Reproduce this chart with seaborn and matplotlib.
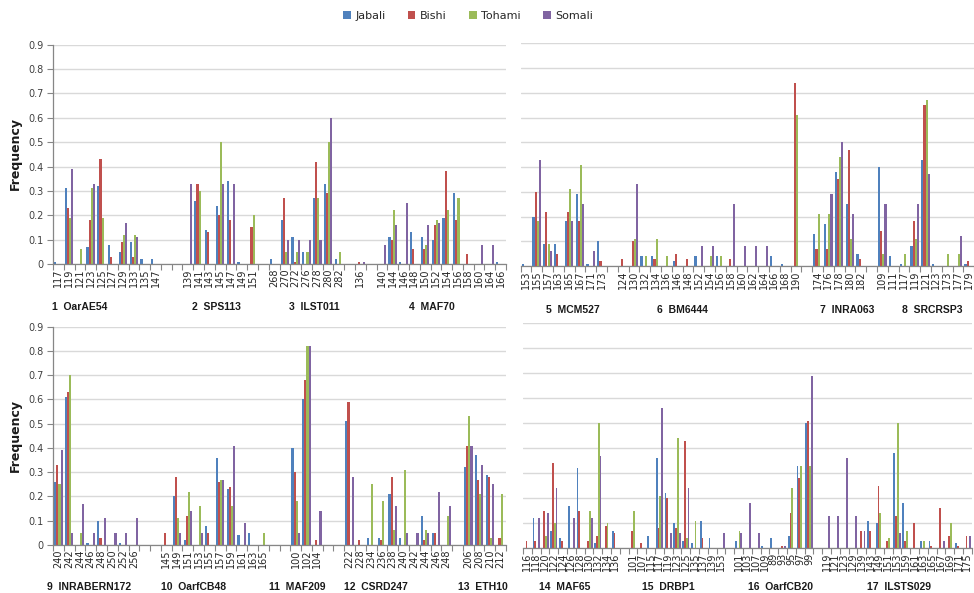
import matplotlib
matplotlib.use("Agg")
import matplotlib.pyplot as plt
import pandas as pd
import seaborn as sns
from matplotlib.patches import Patch
from matplotlib.ticker import FixedLocator

BREEDS = ["Jabali", "Bishi", "Tohami", "Somali"]
COLORS = ["#4F81BD", "#C0504D", "#9BBB59", "#8064A2"]

# ---- panel A: markers 1-4 ("" = spacer slot between markers) ----
A_ALLELES = ["117", "119", "121", "123", "125", "127", "129", "133", "135", "147", "", "",
             "139", "141", "143", "145", "147", "149", "151", "",
             "268", "270", "272", "276", "278", "280", "282", "",
             "136", "", "140", "144", "146", "148", "150", "152", "154", "156", "158", "160", "164", "166"]
A_JABALI = [.01, .31, 0, .07, .32, .08, .05, .09, .02, .02, 0, 0,
            0, .26, .14, .24, .34, .01, 0, 0,
            .02, .18, .11, .05, .27, .33, .02, 0,
            0, 0, 0, .11, .01, .13, .11, .10, .19, .29, 0, 0, 0, .01]
A_BISHI = [0, .23, 0, .18, .43, .03, .09, .03, 0, 0, 0, 0,
           0, .33, .13, .20, .18, 0, .15, 0,
           0, .27, .01, 0, .42, .29, 0, 0,
           .01, 0, 0, .10, 0, .06, .06, .16, .38, .18, .04, 0, 0, 0]
A_TOHAMI = [0, .19, .06, .31, .19, 0, .12, .12, 0, 0, 0, 0,
            0, .30, 0, .50, 0, 0, .20, 0,
            0, .05, .05, .05, .27, .50, .05, 0,
            0, 0, 0, .22, 0, 0, .08, .18, .22, .27, 0, 0, 0, 0]
A_SOMALI = [0, .39, 0, .33, 0, 0, .17, .11, 0, 0, 0, 0,
            .33, 0, 0, .33, .33, 0, 0, 0,
            0, .10, .10, .10, .10, .60, 0, 0,
            .01, 0, .08, .16, .25, 0, .16, .17, 0, 0, 0, .08, .08, 0]
A_MARKERS = ["1  OarAE54", "2  SPS113", "3  ILST011", "4  MAF70"]

# ---- panel B: markers 5-8 ----
B_ALLELES = ["153", "155", "157", "163", "165", "167", "171", "173", "",
             "124", "130", "132", "134", "136", "146", "148", "152", "154", "156", "158", "160",
             "162", "164", "166", "168", "190", "",
             "174", "176", "178", "180", "182", "",
             "109", "111", "117", "119", "121", "123", "173", "177", "179"]
B_JABALI = [.01, .20, .09, .09, .18, .29, .01, .10, 0,
            0, 0, .04, .04, 0, .02, 0, .04, 0, .04, 0, 0, 0, 0, .04, .01, 0, 0,
            .13, .17, .38, .25, .05, 0,
            .40, .04, .01, .08, .43, .01, 0, 0, .01]
B_BISHI = [0, .30, .22, .05, .22, .18, 0, .02, 0,
           .03, .10, 0, .03, 0, .05, .03, 0, 0, 0, .03, 0, 0, 0, 0, 0, .74, 0,
           .07, .07, .35, .47, .03, 0,
           .14, 0, 0, .18, .65, 0, 0, 0, .02]
B_TOHAMI = [0, .18, .09, 0, .31, .41, 0, 0, 0,
            0, .11, .04, .11, .04, 0, 0, 0, .04, .04, 0, 0, 0, 0, 0, 0, .61, 0,
            .21, .21, .44, .11, 0, 0,
            .05, 0, .05, .11, .67, 0, .05, .05, 0]
B_SOMALI = [0, .43, .06, 0, .18, .25, .06, 0, 0,
            0, .33, 0, 0, 0, 0, 0, .08, .08, 0, .25, .08, .08, .08, 0, 0, 0, 0,
            0, .29, .50, .21, 0, 0,
            .25, 0, 0, .25, .37, 0, 0, .12, 0]
B_MARKERS = ["5  MCM527", "6  BM6444", "7  INRA063", "8  SRCRSP3"]

# ---- panel C: markers 9-13 ----
C_ALLELES = ["240", "242", "244", "246", "248", "250", "252", "256", "", "",
             "145", "149", "151", "153", "155", "157", "159", "161", "163", "165", "", "",
             "100", "102", "104", "", "",
             "222", "228", "234", "236", "238", "240", "242", "244", "246", "248", "",
             "206", "208", "210", "212"]
C_JABALI = [.26, .61, 0, .01, .10, 0, .01, 0, 0, 0,
            0, .20, .02, 0, .08, .36, .23, .04, .05, 0, 0, 0,
            .40, .60, 0, 0, 0,
            .51, 0, .03, .03, .21, .03, 0, .12, .05, 0, 0,
            .32, .37, .29, 0]
C_BISHI = [.33, .63, 0, 0, .03, 0, 0, 0, 0, 0,
           .05, .28, .12, 0, .05, .26, .24, 0, 0, 0, 0, 0,
           .30, .68, .02, 0, 0,
           .59, .02, 0, .02, .28, 0, 0, .02, .05, 0, 0,
           .41, .27, .28, .03]
C_TOHAMI = [.25, .70, .05, 0, 0, 0, 0, 0, 0, 0,
            0, .11, .22, .16, 0, .27, .16, 0, 0, .05, 0, 0,
            .18, .82, 0, 0, 0,
            0, 0, .25, .18, .06, .31, 0, .06, 0, .12, 0,
            .53, .21, .03, .21]
C_SOMALI = [.39, .05, .17, .05, .11, .05, .05, .11, 0, 0,
            0, .05, .14, .05, 0, .27, .41, .09, 0, 0, 0, 0,
            .05, .82, .14, 0, 0,
            .28, 0, 0, 0, .16, .05, .05, .05, .22, .16, 0,
            .41, .33, .25, 0]
C_MARKERS = ["9  INRABERN172", "10  OarfCB48", "11  MAF209", "12  CSRD247", "13  ETH10"]

# ---- panel D: markers 14-17 ----
D_ALLELES = ["116", "118", "120", "122", "124", "126", "128", "130", "132", "134", "136", "",
             "101", "107", "115", "117", "119", "123", "125", "135", "137", "139", "153", "",
             "101", "103", "107", "109", "89", "93", "95", "97", "99", "",
             "119", "121", "123", "129", "139", "143", "149", "151", "153", "159", "161", "163",
             "165", "167", "169", "171", "175"]
D_JABALI = [0, .12, 0, .07, .04, .17, .32, 0, .02, 0, .07, 0,
            0, 0, .05, .36, .22, .10, .03, .02, .11, .04, 0, 0,
            .03, 0, 0, .01, .04, 0, .05, .33, .50, 0,
            0, 0, 0, 0, 0, .11, .10, 0, .38, .18, 0, .03, .03, 0, 0, .02, 0]
D_BISHI = [.03, .03, .15, .34, .03, 0, .15, .03, .05, .09, .06, 0,
           .07, .02, 0, .08, .20, .08, .43, 0, .04, 0, 0, 0,
           0, 0, 0, 0, 0, .01, .14, .28, .51, 0,
           0, 0, 0, 0, .07, .07, .25, .03, .13, .03, .10, 0, .01, .16, .05, .01, .05]
D_TOHAMI = [0, 0, .05, .10, 0, 0, 0, .15, .50, .10, 0, 0,
            .15, 0, 0, .21, 0, .44, .04, .11, 0, 0, 0, 0,
            .07, 0, 0, 0, 0, 0, .24, .33, .33, 0,
            0, 0, 0, 0, 0, 0, .14, .04, .50, .07, 0, .03, 0, 0, .10, 0, 0]
D_SOMALI = [0, .12, .14, .24, 0, .12, 0, .12, .37, 0, 0, 0,
            0, 0, 0, .56, .06, .06, .24, 0, 0, 0, .06, 0,
            .06, .18, .06, 0, 0, .01, 0, 0, .69, 0,
            .13, .13, .36, .13, .07, 0, 0, 0, .06, 0, 0, 0, 0, .03, 0, 0, .05]
D_MARKERS = ["14  MAF65", "15  DRBP1", "16  OarfCB20", "17  ILSTS029"]

FIG_W, FIG_H = 974, 593
sns.set_theme(style="white")
plt.rcParams["font.family"] = ["DejaVu Sans"]
fig = plt.figure(figsize=(FIG_W / 100, FIG_H / 100), dpi=100)


def add_axes_px(x0, y_top, x1, y_bot):
    return fig.add_axes([x0 / FIG_W, 1 - y_bot / FIG_H, (x1 - x0) / FIG_W, (y_bot - y_top) / FIG_H])


def draw_panel(ax, alleles, series, show_y):
    slots = [f"s{i}" for i in range(len(alleles))]
    frames = []
    for breed, vals in zip(BREEDS, series):
        frames.append(pd.DataFrame({"slot": slots, "freq": vals, "breed": breed}))
    df = pd.concat(frames, ignore_index=True)
    sns.barplot(data=df, x="slot", y="freq", hue="breed", order=slots, hue_order=BREEDS,
                palette=COLORS, saturation=1, width=0.8, errorbar=None, linewidth=0,
                legend=False, ax=ax)
    n = len(alleles)
    ax.set_xlim(-0.5, n - 0.5)
    ax.set_ylim(0, 0.9)
    ax.set_yticks([i / 10 for i in range(10)])
    ax.yaxis.grid(True, color="#D9D9D9", linewidth=1.0)
    ax.set_axisbelow(True)
    ax.set_xlabel("")
    ax.set_ylabel("")
    ax.set_xticks(range(n))
    ax.set_xticklabels(alleles, rotation=90, fontsize=7, color="#262626")
    ax.tick_params(axis="x", which="major", length=0, pad=3)
    ax.xaxis.set_minor_locator(FixedLocator([i - 0.5 for i in range(n + 1)]))
    ax.tick_params(axis="x", which="minor", length=4, color="#868686", width=0.8, bottom=True)
    for side in ("top", "right"):
        ax.spines[side].set_visible(False)
    ax.spines["bottom"].set_color("#868686")
    ax.spines["bottom"].set_linewidth(0.9)
    if show_y:
        ax.spines["left"].set_color("#868686")
        ax.spines["left"].set_linewidth(0.9)
        ax.set_yticklabels(["0"] + [f"{i / 10:.1f}" for i in range(1, 10)], fontsize=7, color="#404040")
        ax.tick_params(axis="y", length=4, color="#868686", width=0.8, left=True, pad=3)
    else:
        ax.spines["left"].set_visible(False)
        ax.tick_params(axis="y", length=0, labelleft=False)
    ax.set_facecolor("none")


axA = add_axes_px(53, 44.7, 506, 264)
axB = add_axes_px(520.5, 43.3, 520.5 + 42 * 10.8, 266)
axC = add_axes_px(53, 326.7, 506, 545)
axD = add_axes_px(523, 323.3, 523 + 51 * 8.8, 548.3)

draw_panel(axA, A_ALLELES, [A_JABALI, A_BISHI, A_TOHAMI, A_SOMALI], True)
draw_panel(axB, B_ALLELES, [B_JABALI, B_BISHI, B_TOHAMI, B_SOMALI], False)
draw_panel(axC, C_ALLELES, [C_JABALI, C_BISHI, C_TOHAMI, C_SOMALI], True)
draw_panel(axD, D_ALLELES, [D_JABALI, D_BISHI, D_TOHAMI, D_SOMALI], False)

# marker names beneath each group of alleles (centre x in pixels)
marker_font = dict(fontsize=7.5, fontweight="bold", color="#1a1a1a",
                   family=["Liberation Sans Narrow", "Liberation Sans", "DejaVu Sans"],
                   ha="center", va="center")
for name, cx in zip(A_MARKERS, [80, 216, 314, 432]):
    fig.text(cx / FIG_W, 1 - 307 / FIG_H, name, **marker_font)
for name, cx in zip(B_MARKERS, [573, 682, 847, 932]):
    fig.text(cx / FIG_W, 1 - 310 / FIG_H, name, **marker_font)
for name, cx in zip(C_MARKERS, [89, 194, 297, 376, 483]):
    fig.text(cx / FIG_W, 1 - 587 / FIG_H, name, **marker_font)
for name, cx in zip(D_MARKERS, [565, 668, 780, 899]):
    fig.text(cx / FIG_W, 1 - 587 / FIG_H, name, **marker_font)

for cy in (154, 436):
    fig.text(15 / FIG_W, 1 - cy / FIG_H, "Frequency", rotation=90, fontsize=9,
             fontweight="bold", color="#1a1a1a", ha="center", va="center")

handles = [Patch(facecolor=c, edgecolor="none", label=b) for b, c in zip(BREEDS, COLORS)]
fig.legend(handles=handles, loc="center", bbox_to_anchor=(468 / FIG_W, 1 - 16 / FIG_H), ncol=4,
           frameon=False, fontsize=8, handlelength=0.7, handleheight=0.7, handletextpad=0.4,
           columnspacing=2.0)

fig.savefig("out.png", dpi=100)
